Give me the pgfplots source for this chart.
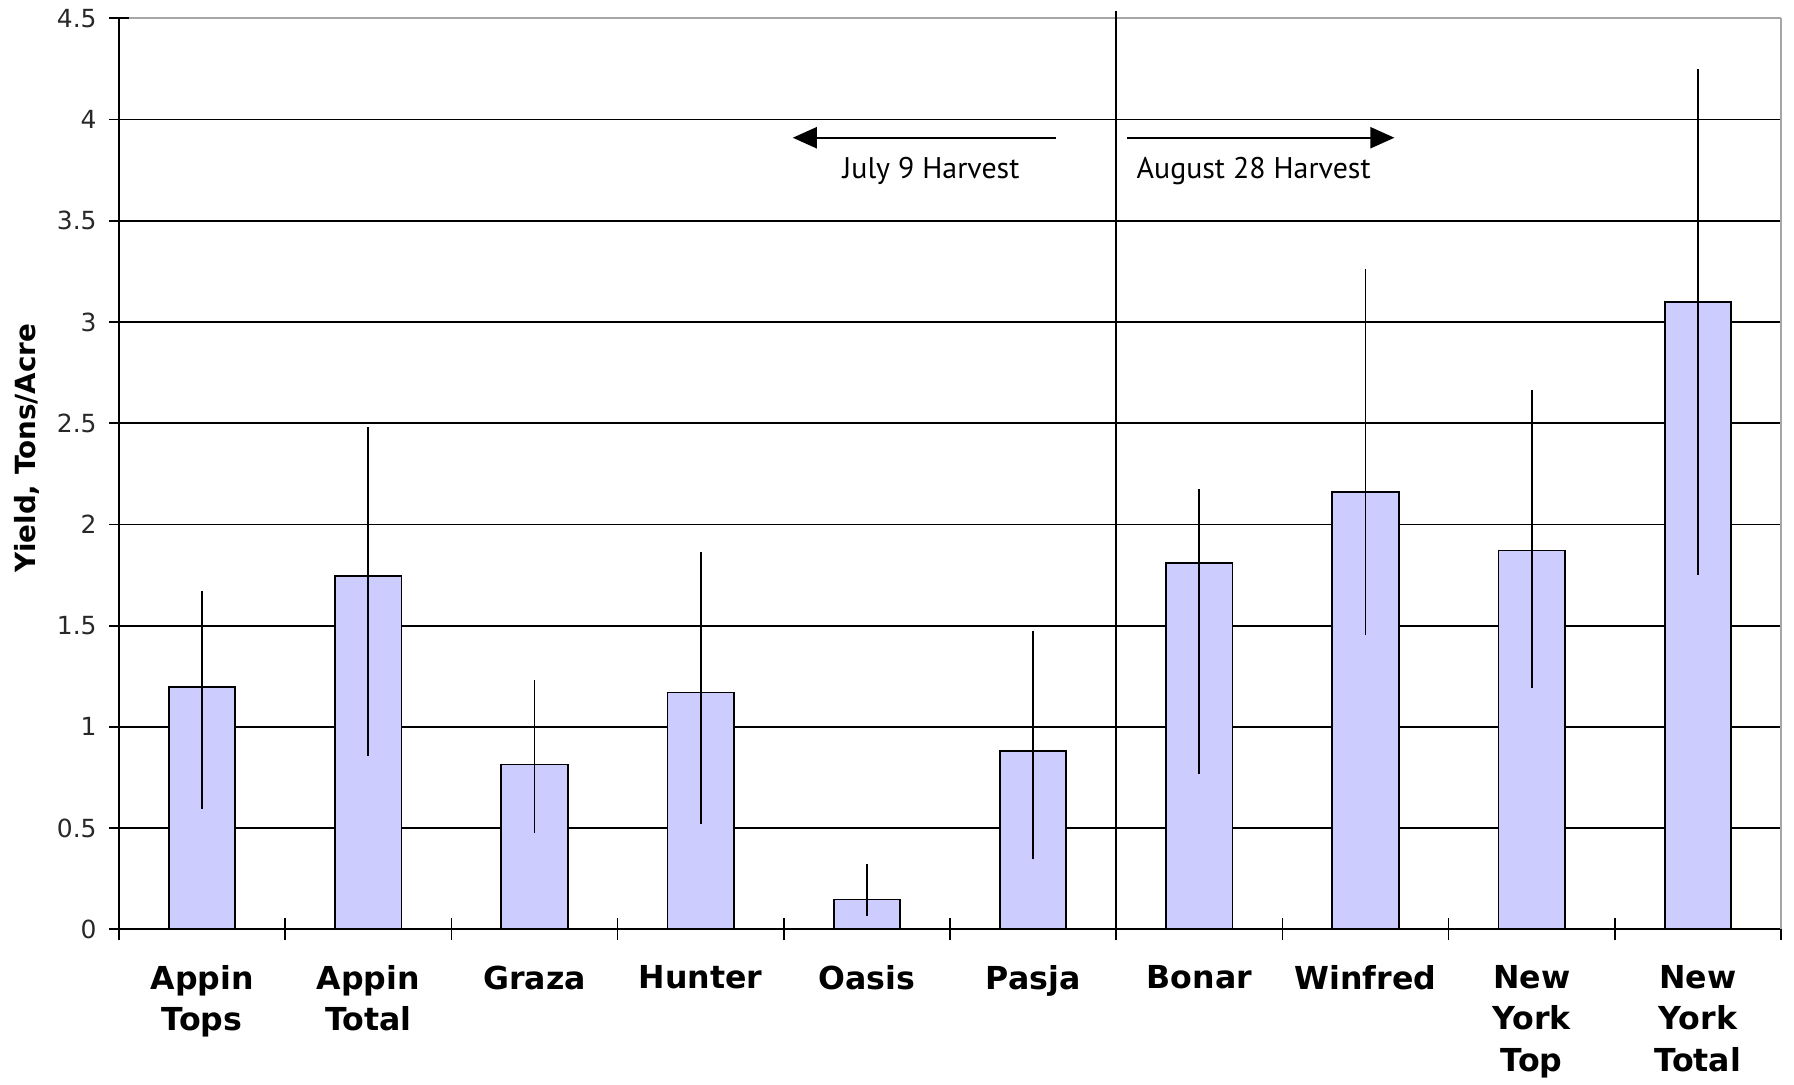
\documentclass[border=0pt]{standalone}
\usepackage{pgfplots}
\pgfplotsset{compat=1.18}
\usepackage{fontspec}
\setmainfont{DejaVu Sans}
\newfontfamily\notefont{PT Sans}
\usetikzlibrary{arrows.meta}
\definecolor{barfill}{RGB}{204,204,255}
\definecolor{ticktext}{RGB}{40,40,40}
\begin{document}
\begin{tikzpicture}
\begin{axis}[
  scale only axis,
  width=166.2mm, height=91.1mm,
  xmin=-0.5, xmax=9.5,
  ymin=0, ymax=4.5,
  ytick={0,0.5,...,4},
  extra y ticks={4.5},
  extra y tick style={grid style={gray!70, line width=0.5pt}},
  ymajorgrids,
  grid style={black, line width=0.5pt},
  axis x line*=bottom,
  axis y line*=left,
  axis line style={black, line width=0.6pt},
  xtick={0,...,9},
  xticklabels={{Appin\\Tops},{Appin\\Total},{Graza},{Hunter},{Oasis},{Pasja},{Bonar},{Winfred},{New\\York\\Top},{New\\York\\Total}},
  major x tick style={draw=none},
  minor xtick={-0.5,0.5,...,9.5},
  minor tick length=2.2mm,
  major tick length=2mm,
  tick align=center,
  tick style={black, line width=0.5pt},
  xticklabel style={font=\bfseries\fontsize{9}{11.7}\selectfont, align=center, anchor=north, yshift=-1.4mm},
  yticklabel style={font=\fontsize{7.1}{8}\selectfont, text=ticktext},
  /pgf/number format/assume math mode=true,
  ylabel={\bfseries Yield, Tons/Acre},
  ylabel style={font=\fontsize{7.9}{9}\selectfont, at={(axis description cs:-0.0554,0.528)}, anchor=center},
  clip=false,
]
\addplot[ybar, bar width=0.4, fill=barfill, draw=black, line width=0.5pt,
  error bars/.cd, y dir=both, y explicit, error mark=none,
  error bar style={black, line width=0.5pt}]
coordinates {
  (0,1.198) += (0,0.472) -= (0,0.602)
  (1,1.747) += (0,0.735) -= (0,0.893)
  (2,0.814) += (0,0.418) -= (0,0.339)
  (3,1.170) += (0,0.695) -= (0,0.650)
  (4,0.147) += (0,0.175) -= (0,0.079)
  (5,0.882) += (0,0.593) -= (0,0.537)
  (6,1.809) += (0,0.367) -= (0,1.040)
  (7,2.159) += (0,1.103) -= (0,0.706)
  (8,1.871) += (0,0.792) -= (0,0.678)
  (9,3.098) += (0,1.153) -= (0,1.346)
};
\draw[black, line width=0.6pt] (axis cs:5.5,0.03) -- (axis cs:5.5,4.534);
\draw[gray!70, line width=0.5pt] (axis cs:9.5,0) -- (axis cs:9.5,4.5);
\draw[black, line width=0.6pt, -{Triangle[length=2.4mm,width=2.1mm]}] (axis cs:5.137,3.91) -- (axis cs:3.554,3.91);
\draw[black, line width=0.6pt, -{Triangle[length=2.4mm,width=2.1mm]}] (axis cs:5.563,3.91) -- (axis cs:7.174,3.91);
\node[font=\notefont\fontsize{8.5}{9}\selectfont, inner sep=0pt] at (axis cs:4.386,3.745) {July 9 Harvest};
\node[font=\notefont\fontsize{8.5}{9}\selectfont, inner sep=0pt] at (axis cs:6.327,3.745) {August 28 Harvest};
\end{axis}
\pgfresetboundingbox
\path (-11.9mm,-15.5mm) rectangle (167.5mm,92.93mm);
\end{tikzpicture}
\end{document}
